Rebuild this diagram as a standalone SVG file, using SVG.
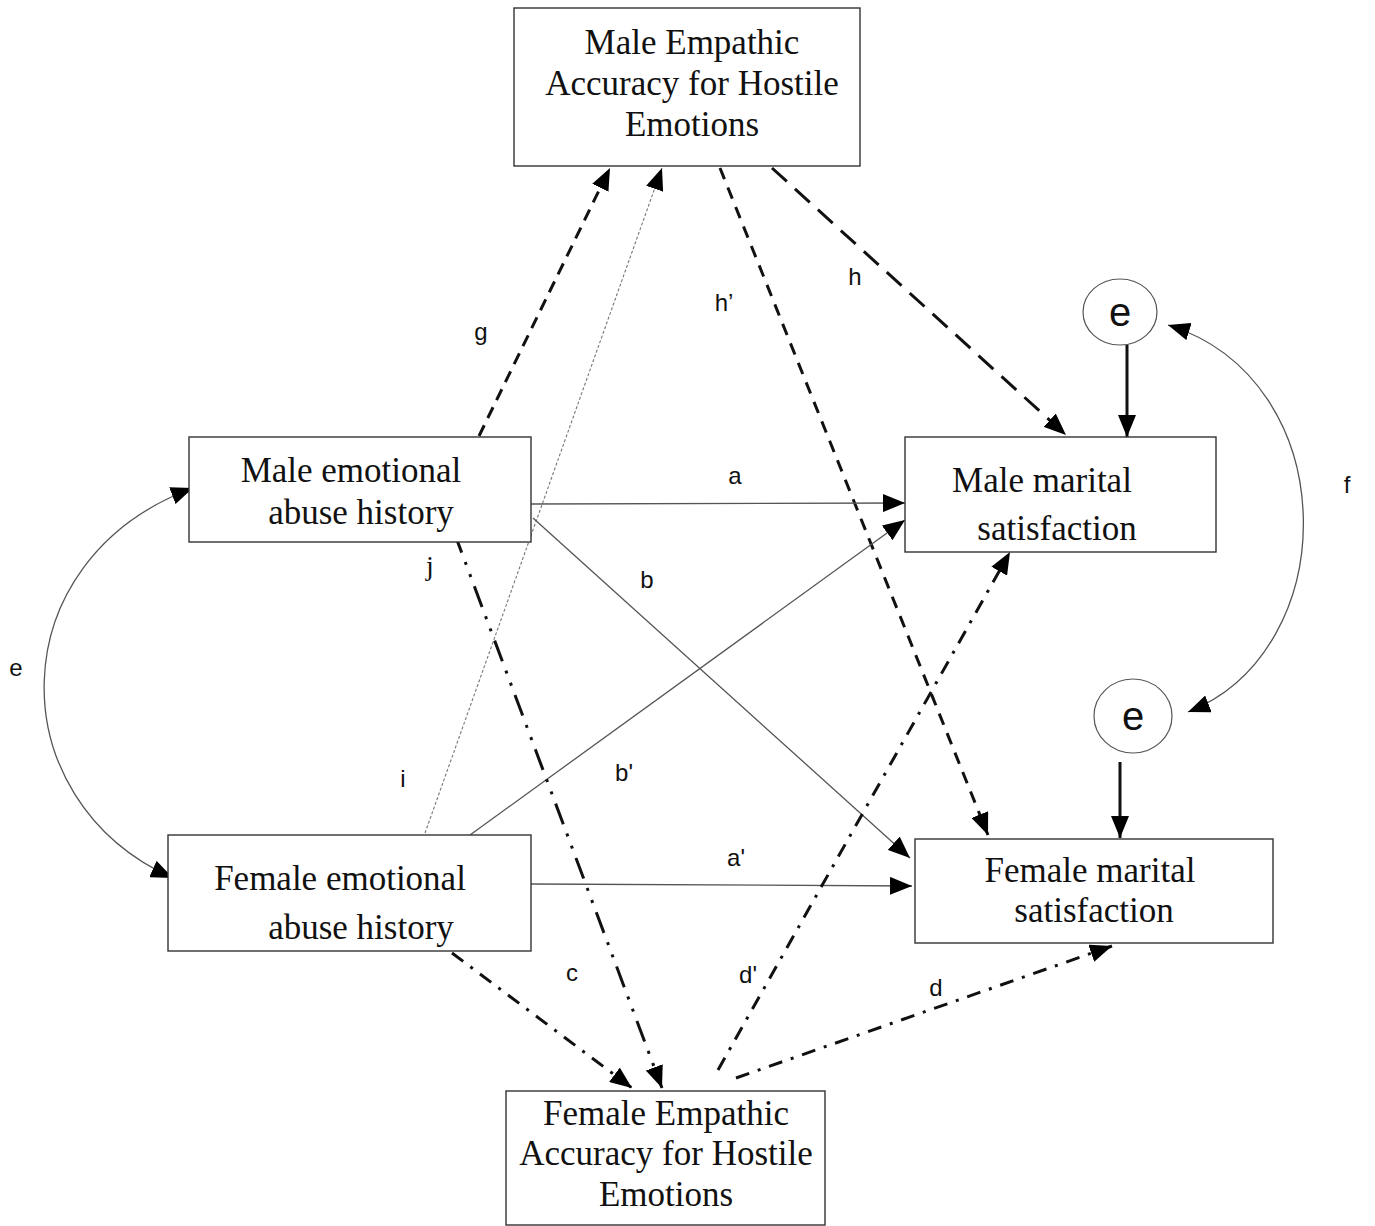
<svg xmlns="http://www.w3.org/2000/svg" width="1375" height="1226" viewBox="0 0 1375 1226">
<style>
.box{fill:#fff;stroke:#333;stroke-width:1.4}
.bt{font-family:"Liberation Serif","Times New Roman",serif;font-size:35px;fill:#111;text-anchor:middle}
.lb{font-family:"Liberation Sans",Arial,sans-serif;font-size:24px;fill:#111;text-anchor:middle}
.ce{font-family:"Liberation Sans",Arial,sans-serif;font-size:40px;fill:#111;text-anchor:middle}
.thin{fill:none;stroke:#555;stroke-width:1.3}
.thick{fill:none;stroke:#111;stroke-width:3}
.cur{fill:none;stroke:#555;stroke-width:1.3}
</style>
<defs>
<marker id="ah" viewBox="0 0 22 18" refX="22" refY="9" markerWidth="22" markerHeight="18" markerUnits="userSpaceOnUse" orient="auto-start-reverse">
<path d="M0,0 L22,9 L0,18 Z" fill="#000"/>
</marker>
</defs>
<rect width="1375" height="1226" fill="#fff"/>
<g id="connectors">
<path class="thick" d="M479,436 L610,168" stroke-dasharray="12 8" marker-end="url(#ah)"/>
<path d="M425,833 L662,168" fill="none" stroke="#777" stroke-width="1.1" stroke-dasharray="3 2" marker-end="url(#ah)"/>
<path class="thick" d="M720,168 L988,835" stroke-dasharray="12 9" marker-end="url(#ah)"/>
<path class="thick" d="M772,168 L1066,435" stroke-dasharray="20 11" marker-end="url(#ah)"/>
<path class="thick" d="M1127,345 L1127,437" stroke-width="2.5" marker-end="url(#ah)"/>
<path class="thick" d="M1120,762 L1120,838" stroke-width="2.5" marker-end="url(#ah)"/>
<path class="thin" d="M531,504 L905,503" marker-end="url(#ah)"/>
<path class="thin" d="M533,518 L910,858" marker-end="url(#ah)"/>
<path class="thin" d="M470,835 L905,520" marker-end="url(#ah)"/>
<path class="thin" d="M531,884 L912,886" marker-end="url(#ah)"/>
<path class="thick" d="M454,532 L662,1088" stroke-dasharray="22 10 3 10 3 10" marker-end="url(#ah)"/>
<path class="thick" d="M452,953 L632,1088" stroke-dasharray="14 9 3 9" marker-end="url(#ah)"/>
<path class="thick" d="M718,1070 L1010,552" stroke-dasharray="14 9 3 9" marker-end="url(#ah)"/>
<path class="thick" d="M736,1078 L1112,946" stroke-dasharray="14 9 3 9" marker-end="url(#ah)"/>
<path class="cur" d="M193,488 C-2,560 -2,800 173,878" marker-start="url(#ah)" marker-end="url(#ah)"/>
<path class="cur" d="M1168,325 C1345,380 1345,650 1188,712" marker-start="url(#ah)" marker-end="url(#ah)"/>
</g>
<g id="n-male-empathic">
<rect class="box" x="514" y="8" width="346" height="158"/>
<text class="bt" x="692" y="54">Male Empathic</text>
<text class="bt" x="692" y="95">Accuracy for Hostile</text>
<text class="bt" x="692" y="136">Emotions</text>
</g>
<g id="n-male-abuse">
<rect class="box" x="189" y="437" width="342" height="105"/>
<text class="bt" x="351" y="482">Male emotional</text>
<text class="bt" x="361" y="524">abuse history</text>
</g>
<g id="n-male-sat">
<rect class="box" x="905" y="437" width="311" height="115"/>
<text class="bt" x="1042" y="492">Male marital</text>
<text class="bt" x="1057" y="540">satisfaction</text>
</g>
<g id="n-female-abuse">
<rect class="box" x="168" y="835" width="363" height="116"/>
<text class="bt" x="340" y="890">Female emotional</text>
<text class="bt" x="361" y="939">abuse history</text>
</g>
<g id="n-female-sat">
<rect class="box" x="915" y="839" width="358" height="104"/>
<text class="bt" x="1090" y="882">Female marital</text>
<text class="bt" x="1094" y="922">satisfaction</text>
</g>
<g id="n-female-empathic">
<rect class="box" x="506" y="1091" width="319" height="134"/>
<text class="bt" x="666" y="1125">Female Empathic</text>
<text class="bt" x="666" y="1165">Accuracy for Hostile</text>
<text class="bt" x="666" y="1206">Emotions</text>
</g>
<g id="n-e1">
<ellipse cx="1120" cy="312" rx="37" ry="33" fill="#fff" stroke="#555" stroke-width="1.2"/>
<text class="ce" x="1120" y="326">e</text>
</g>
<g id="n-e2">
<ellipse cx="1133" cy="716" rx="39" ry="37" fill="#fff" stroke="#555" stroke-width="1.2"/>
<text class="ce" x="1133" y="730">e</text>
</g>
<g id="labels">
<text class="lb" x="481" y="340">g</text>
<text class="lb" x="724" y="311">h’</text>
<text class="lb" x="855" y="285">h</text>
<text class="lb" x="735" y="484">a</text>
<text class="lb" x="647" y="588">b</text>
<text class="bt" x="430" y="575" style="font-size:28px">j</text>
<text class="lb" x="403" y="787">i</text>
<text class="lb" x="624" y="781">b'</text>
<text class="lb" x="736" y="866">a'</text>
<text class="lb" x="572" y="981">c</text>
<text class="lb" x="748" y="983">d'</text>
<text class="lb" x="936" y="996">d</text>
<text class="lb" x="16" y="676">e</text>
<text class="lb" x="1347" y="493">f</text>
</g>
</svg>
